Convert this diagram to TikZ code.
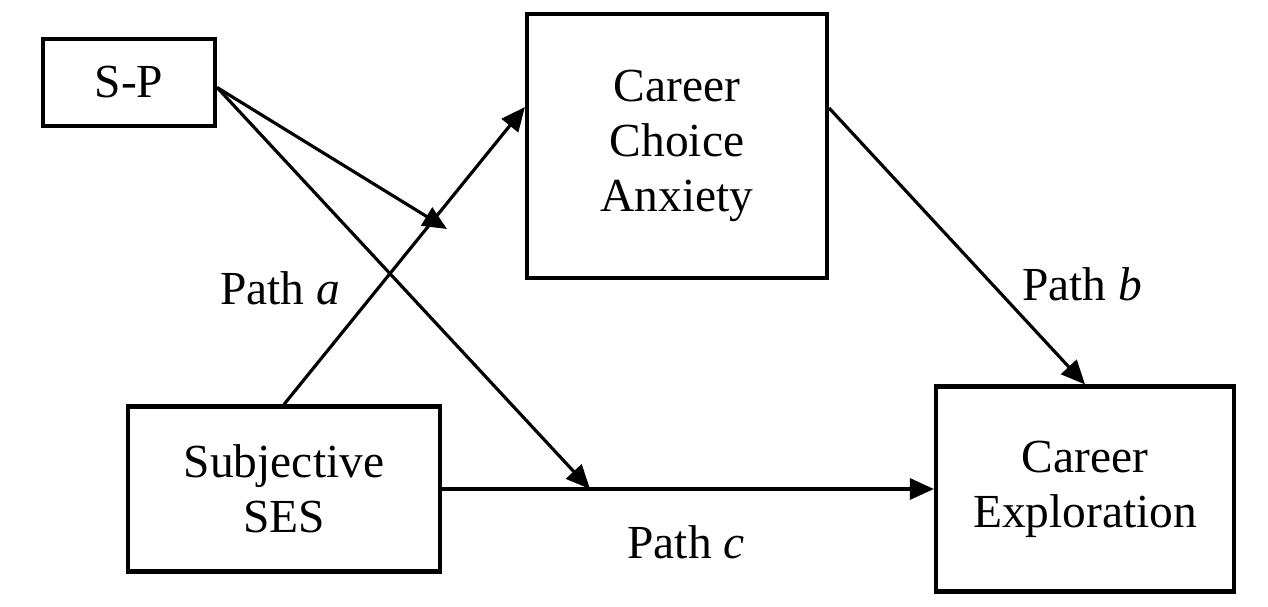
\documentclass[tikz,border=0pt]{standalone}
\usepackage{fontspec}
\setmainfont{Liberation Serif}
\usepackage{tikz}
\usetikzlibrary{arrows.meta,positioning,calc}

\begin{document}
\begin{tikzpicture}[
  x=0.02cm, y=-0.02cm,
  box/.style={rectangle, draw=black, line width=2.4pt, inner sep=0pt,
    font=\fontsize{27}{31.3}\selectfont, align=center},
  link/.style={-{Triangle[length=0.48cm, width=0.42cm]}, line width=1.8pt, black},
  lbl/.style={font=\fontsize{27}{31.3}\selectfont, inner sep=0pt},
]
  \useasboundingbox (0,0) rectangle (1268,606);

  \node[box, minimum width=3.44cm, minimum height=1.74cm] (sp) at (129,82.5) {S-P};
  \node[box, minimum width=6cm, minimum height=5.28cm] (cca) at (677,146) {Career\\Choice\\Anxiety};
  \node[box, minimum width=6.24cm, minimum height=3.3cm] (ses) at (284,489) {Subjective\\SES};
  \node[box, minimum width=5.96cm, minimum height=4.1cm] (ce) at (1085,489) {Career\\Exploration};

  \coordinate (modA) at (447,229);
  \coordinate (modC) at (590,489);

  \draw[link] (ses.north) -- ([yshift=0.78cm]cca.west);
  \draw[link] ([yshift=0.76cm]cca.east) -- (ce.north);
  \draw[link] (ses.east) -- (ce.west);
  \draw[link] ([yshift=-0.1cm]sp.east) -- (modA);
  \draw[link] ([yshift=-0.1cm]sp.east) -- (modC);

  \node[lbl] (pa) at (280,288) {Path \textit{a}};
  \node[lbl] (pb) at (1082,284) {Path \textit{b}};
  \node[lbl] (pc) at (686,542) {Path \textit{c}};
\end{tikzpicture}
\end{document}
